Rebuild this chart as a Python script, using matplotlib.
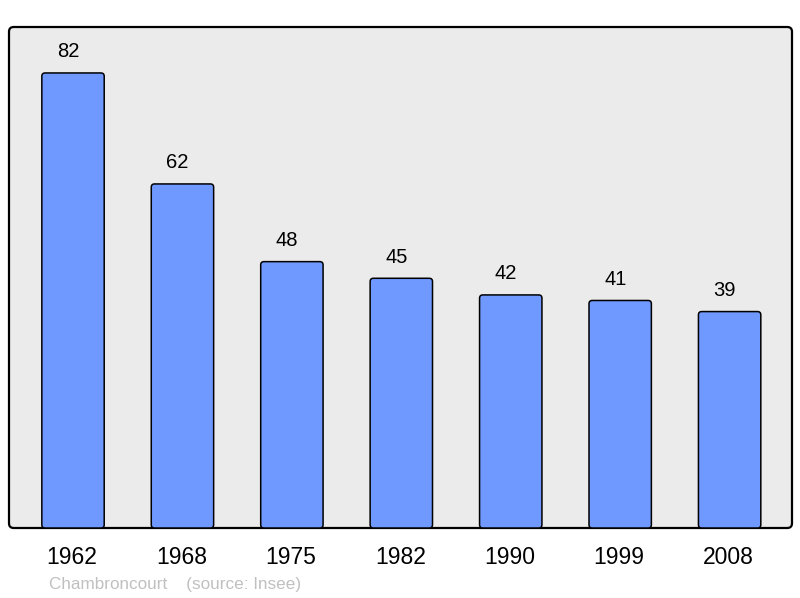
import matplotlib.pyplot as plt
from matplotlib.patches import FancyBboxPatch

plt.rcParams['font.family'] = ['Liberation Sans', 'DejaVu Sans']

years = ['1962', '1968', '1975', '1982', '1990', '1999', '2008']
population = [82, 62, 48, 45, 42, 41, 39]
commune = 'Chambroncourt'

fig = plt.figure(figsize=(8, 5.98), dpi=100)
ax = fig.add_axes([9/800, 70/598, 783/800, 501/598])
ax.set_facecolor('none')
ax.set_xlim(-0.585, 6.57)
ax.set_ylim(0, max(population) * 1.101)
for s in ax.spines.values():
    s.set_visible(False)
ax.set_xticks([])
ax.set_yticks([])

# rounded frame of the plot area
frame = FancyBboxPatch((0, 0), 1, 1, boxstyle='round,pad=0,rounding_size=0.006',
                       mutation_aspect=783/501, transform=ax.transAxes,
                       facecolor='#ebebeb', edgecolor='black', linewidth=1.6,
                       zorder=0, clip_on=False)
ax.add_patch(frame)

x = list(range(len(years)))
bars = ax.bar(x, population, width=0.57, color='#7099ff')
for b, v, yr in zip(bars, population, years):
    b.set_visible(False)
    p = FancyBboxPatch((b.get_x(), 0), b.get_width(), v,
                       boxstyle='round,pad=0,rounding_size=0.03', mutation_aspect=19.7,
                       facecolor='#7099ff', edgecolor='black', linewidth=1.1, zorder=2)
    ax.add_patch(p)
    ax.annotate(str(v), (b.get_x() + b.get_width()/2, v), xytext=(-5, 21),
                textcoords='offset pixels', ha='center', va='center', fontsize=14.5)
    ax.annotate(yr, (b.get_x() + b.get_width()/2, 0), xytext=(-1, -30),
                textcoords='offset pixels', ha='center', va='center', fontsize=16.5,
                annotation_clip=False)

fig.text(49/800, 1 - 585/598, commune + '    (source: Insee)', color='#c0c0c0',
         fontsize=12.3, ha='left', va='center')

fig.savefig('out.png', dpi=100, facecolor='white')
